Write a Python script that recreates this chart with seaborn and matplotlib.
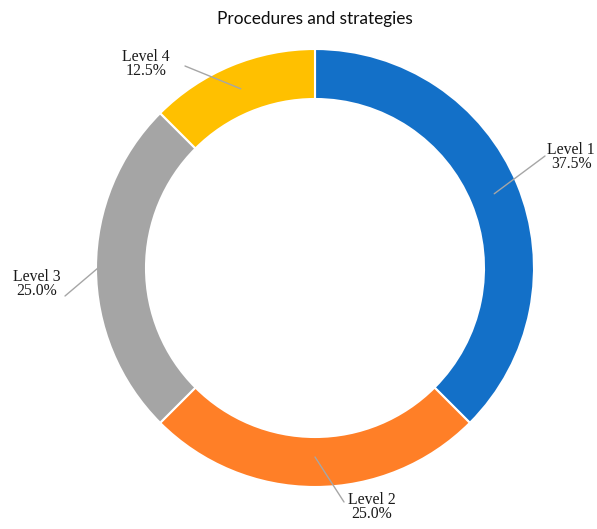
import numpy as np
import matplotlib
matplotlib.use("Agg")
import matplotlib.pyplot as plt
import seaborn as sns

categories = ["Level 1", "Level 2", "Level 3", "Level 4"]
values = [37.5, 25.0, 25.0, 12.5]
colors = ["#1370C8", "#FF7F27", "#A5A5A5", "#FFC000"]
title = "Procedures and strategies"

sns.set_theme(style="white")

fig = plt.figure(figsize=(5.97, 5.29), dpi=100)
ax = fig.add_axes([0, 0, 1, 1])

cx, cy = 315, 529 - 268
R = 219
width = 50

wedges, _ = ax.pie(values, colors=colors, startangle=90, counterclock=False,
                   radius=R, center=(cx, cy), frame=True,
                   wedgeprops=dict(width=width, edgecolor="white", linewidth=1.5))
ax.set_xlim(0, 597)
ax.set_ylim(0, 529)
ax.axis("off")

# label text positions (pixel layout, y from top)
text_pos = {"Level 1": (571, 157), "Level 2": (372, 507),
            "Level 3": (37, 284), "Level 4": (146, 64)}
# leader line end near text
line_end = {"Level 1": (545, 156), "Level 2": (344, 502),
            "Level 3": (65, 296), "Level 4": (185, 66)}
anchor_r = {"Level 1": R - width / 2, "Level 2": R - width / 2 - 5,
            "Level 3": R - 2, "Level 4": R - width / 2}

total = sum(values)
cum = 0
for cat, v in zip(categories, values):
    mid = (cum + v / 2) / total * 2 * np.pi
    cum += v
    r = anchor_r[cat]
    ax_x = cx + r * np.sin(mid)
    ax_y = cy + r * np.cos(mid)
    ex, ey = line_end[cat]
    ax.plot([ax_x, ex], [ax_y, 529 - ey], color="#A6A6A6", lw=1.0)
    tx, ty = text_pos[cat]
    ax.text(tx, 529 - ty, f"{cat}\n{v:.1f}%", ha="center", va="center",
            fontsize=11.3, family="Liberation Serif", color="#1a1a1a",
            linespacing=0.9)

ax.text(315, 529 - 19, title, ha="center", va="center", fontsize=12.4,
        family="Lato", color="#0d0d0d")

fig.savefig("out.png", dpi=100, facecolor="white")
